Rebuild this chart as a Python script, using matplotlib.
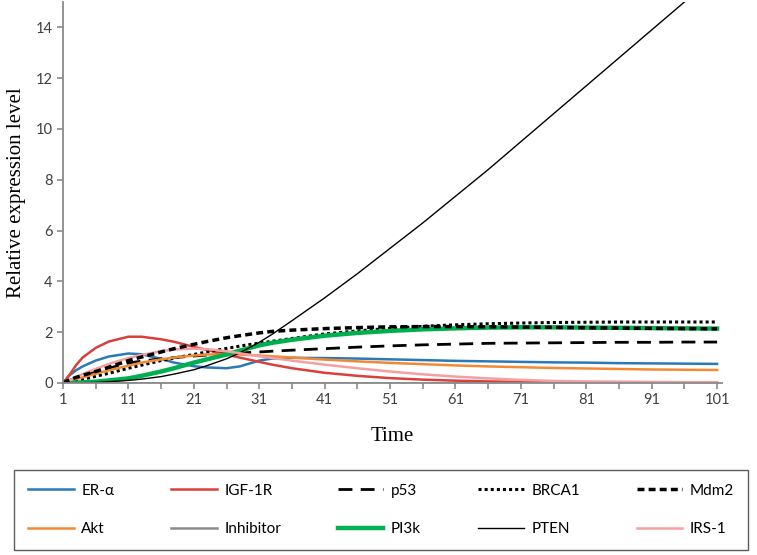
import matplotlib.pyplot as plt

# time points
time = [1, 2, 3, 4, 6, 8, 11, 13, 16, 18, 21, 23, 26, 28, 31, 33, 36,
        41, 46, 51, 56, 61, 66, 71, 76, 81, 86, 91, 96, 101]

er_alpha = [0, 0.3, 0.5, 0.65, 0.88, 1.04, 1.16, 1.13, 0.95, 0.8, 0.66, 0.61, 0.58, 0.65, 0.88, 0.96, 0.99,
            0.98, 0.96, 0.93, 0.9, 0.87, 0.85, 0.83, 0.81, 0.8, 0.78, 0.77, 0.76, 0.75]
igf1r = [0, 0.32, 0.7, 1.0, 1.38, 1.63, 1.82, 1.82, 1.72, 1.62, 1.42, 1.3, 1.12, 1.0, 0.83, 0.72, 0.58,
         0.4, 0.28, 0.19, 0.13, 0.09, 0.06, 0.04, 0.03, 0.02, 0.02, 0.01, 0.01, 0.01]
p53 = [0, 0.1, 0.2, 0.28, 0.43, 0.58, 0.78, 0.86, 0.95, 1.0, 1.06, 1.1, 1.15, 1.18, 1.22, 1.25, 1.29,
       1.35, 1.41, 1.46, 1.5, 1.53, 1.56, 1.57, 1.58, 1.59, 1.6, 1.6, 1.61, 1.61]
brca1 = [0, 0.03, 0.08, 0.14, 0.26, 0.38, 0.58, 0.7, 0.88, 0.98, 1.12, 1.22, 1.36, 1.45, 1.57, 1.64, 1.75,
         1.93, 2.05, 2.15, 2.23, 2.29, 2.33, 2.36, 2.38, 2.39, 2.4, 2.4, 2.4, 2.4]
mdm2 = [0, 0.12, 0.22, 0.3, 0.45, 0.62, 0.88, 1.02, 1.22, 1.35, 1.52, 1.63, 1.78, 1.86, 1.97, 2.03, 2.08,
        2.14, 2.18, 2.21, 2.22, 2.22, 2.21, 2.2, 2.19, 2.17, 2.16, 2.15, 2.14, 2.13]
akt = [0, 0.08, 0.15, 0.22, 0.36, 0.5, 0.68, 0.8, 0.93, 1.0, 1.08, 1.12, 1.13, 1.12, 1.08, 1.05, 1.0,
       0.92, 0.85, 0.79, 0.74, 0.69, 0.65, 0.62, 0.59, 0.57, 0.55, 0.53, 0.52, 0.51]
inhibitor = [0] * 30
pi3k = [0, 0, 0.01, 0.02, 0.05, 0.1, 0.18, 0.28, 0.45, 0.58, 0.8, 0.93, 1.12, 1.27, 1.48, 1.58, 1.7,
        1.86, 1.97, 2.05, 2.11, 2.15, 2.18, 2.19, 2.19, 2.18, 2.17, 2.16, 2.15, 2.14]
pten = [0, 0, 0, 0.01, 0.02, 0.05, 0.1, 0.15, 0.25, 0.35, 0.52, 0.68, 0.95, 1.18, 1.6, 1.92, 2.45,
        3.35, 4.3, 5.3, 6.3, 7.35, 8.4, 9.5, 10.6, 11.7, 12.8, 13.9, 15.0, 16.1]
irs1 = [0, 0.1, 0.22, 0.35, 0.55, 0.75, 0.98, 1.1, 1.25, 1.32, 1.35, 1.33, 1.25, 1.17, 1.05, 0.98, 0.88,
        0.72, 0.58, 0.45, 0.34, 0.25, 0.18, 0.12, 0.08, 0.06, 0.05, 0.04, 0.03, 0.03]

fig = plt.figure(figsize=(7.57, 5.55), dpi=100)
ax = fig.add_axes([0.0832, 0.31, 0.871, 0.6864])

lines = {}
lines['ER-α'] = ax.plot(time, er_alpha, color='#2a7ab8', lw=1.8)[0]
lines['IGF-1R'] = ax.plot(time, igf1r, color='#d9403c', lw=1.8)[0]
lines['p53'] = ax.plot(time, p53, color='black', lw=2, dashes=(5, 3))[0]
lines['BRCA1'] = ax.plot(time, brca1, color='black', lw=2.2, dashes=(1, 1))[0]
lines['Mdm2'] = ax.plot(time, mdm2, color='black', lw=2.5, dashes=(2, 1.2))[0]
lines['Akt'] = ax.plot(time, akt, color='#f28a35', lw=1.8)[0]
lines['Inhibitor'] = ax.plot(time, inhibitor, color='#8c8c8c', lw=1.8)[0]
lines['PI3k'] = ax.plot(time, pi3k, color='#00b050', lw=3.2)[0]
lines['PTEN'] = ax.plot(time, pten, color='black', lw=1.0)[0]
lines['IRS-1'] = ax.plot(time, irs1, color='#f4a0a3', lw=1.8)[0]
lines['Mdm2'].set_zorder(2.5)

ax.set_xlim(1, 101.8)
ax.set_ylim(0, 15)
ax.set_xticks(range(1, 102, 10))
ax.set_xticks(range(6, 102, 10), minor=True)
ax.set_yticks(range(0, 15, 2))
for s in ['top', 'right']:
    ax.spines[s].set_visible(False)
for s in ['left', 'bottom']:
    ax.spines[s].set_color('#8a8a8a')
    ax.spines[s].set_linewidth(1.3)
ax.tick_params(which='both', direction='out', length=4, width=1.2, color='#8a8a8a',
               labelsize=10.5, labelcolor='#404040')
for lab in ax.get_xticklabels() + ax.get_yticklabels():
    lab.set_family('Lato')

ax.set_xlabel('Time', family='Liberation Serif', fontsize=15, labelpad=14)
ax.set_ylabel('Relative expression level', family='Liberation Serif', fontsize=15, labelpad=7)

order = ['ER-α', 'Akt', 'IGF-1R', 'Inhibitor', 'p53', 'PI3k', 'BRCA1', 'PTEN', 'Mdm2', 'IRS-1']
leg = fig.legend([lines[k] for k in order], order, ncol=5, mode='expand',
                 bbox_to_anchor=(14 / 757, 3 / 555, 734 / 757, 84 / 555), loc='center',
                 fancybox=False, edgecolor='#333333', handlelength=3.0, handletextpad=0.5,
                 labelspacing=1.6, prop={'family': 'Lato', 'size': 11}, borderpad=0.9,
                 borderaxespad=0)
leg.get_frame().set_linewidth(1.0)

fig.savefig('out.png', dpi=100)
